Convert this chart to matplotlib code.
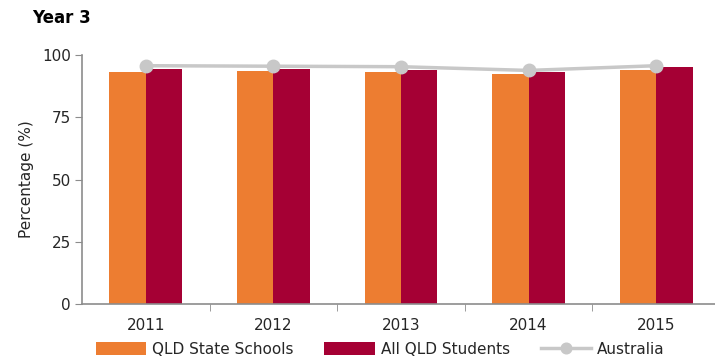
import numpy as np
import matplotlib.pyplot as plt

years = ['2011', '2012', '2013', '2014', '2015']
qld_state = [93.2, 93.7, 93.3, 92.2, 94.1]
all_qld = [94.3, 94.4, 94.0, 93.0, 95.0]
australia = [95.7, 95.5, 95.3, 93.8, 95.7]

plt.rcParams['font.family'] = ['DejaVu Sans']
text_col = '#262626'

fig = plt.figure(figsize=(7.15, 3.6), dpi=100)
ax = fig.add_axes([82 / 715, 56 / 360, 638 / 715, 249 / 360])

x = np.arange(len(years))
w = 0.286
b1 = ax.bar(x - w / 2, qld_state, w, color='#ED7D31', label='QLD State Schools')
b2 = ax.bar(x + w / 2, all_qld, w, color='#A50034', label='All QLD Students')
l1, = ax.plot(x, australia, color='#C8C8C8', lw=2.5, marker='o', ms=9,
              label='Australia', zorder=3)

ax.set_xlim(-0.5, len(years) - 0.5)
ax.set_ylim(0, 100)
ax.set_yticks([0, 25, 50, 75, 100])
ax.set_xticks(x)
ax.set_xticklabels(years)
ax.set_xticks(np.arange(len(years)) + 0.5, minor=True)

for s in ['top', 'right']:
    ax.spines[s].set_visible(False)
for s in ['left', 'bottom']:
    ax.spines[s].set_color('#8C8C8C')
    ax.spines[s].set_linewidth(1.2)

ax.tick_params(axis='y', length=5, color='#8C8C8C', labelsize=11, pad=3,
               labelcolor=text_col)
ax.tick_params(axis='x', which='major', length=0, labelsize=11, pad=10,
               labelcolor=text_col)
ax.tick_params(axis='x', which='minor', length=5, color='#8C8C8C')

ax.set_ylabel('Percentage (%)', fontsize=11, labelpad=6, color=text_col)
fig.text(32 / 715, 1 - 18 / 360, 'Year 3', fontsize=12, fontweight='bold',
         va='center', ha='left')

fig.legend(handles=[b1, b2, l1], loc='center left',
           bbox_to_anchor=(82 / 715, 1 - 349 / 360), ncol=3,
           frameon=False, fontsize=11, handlelength=3.3, handleheight=0.9,
           columnspacing=2.0, handletextpad=0.4, labelcolor=text_col,
           markerscale=0.85)

fig.savefig('out.png', dpi=100)
